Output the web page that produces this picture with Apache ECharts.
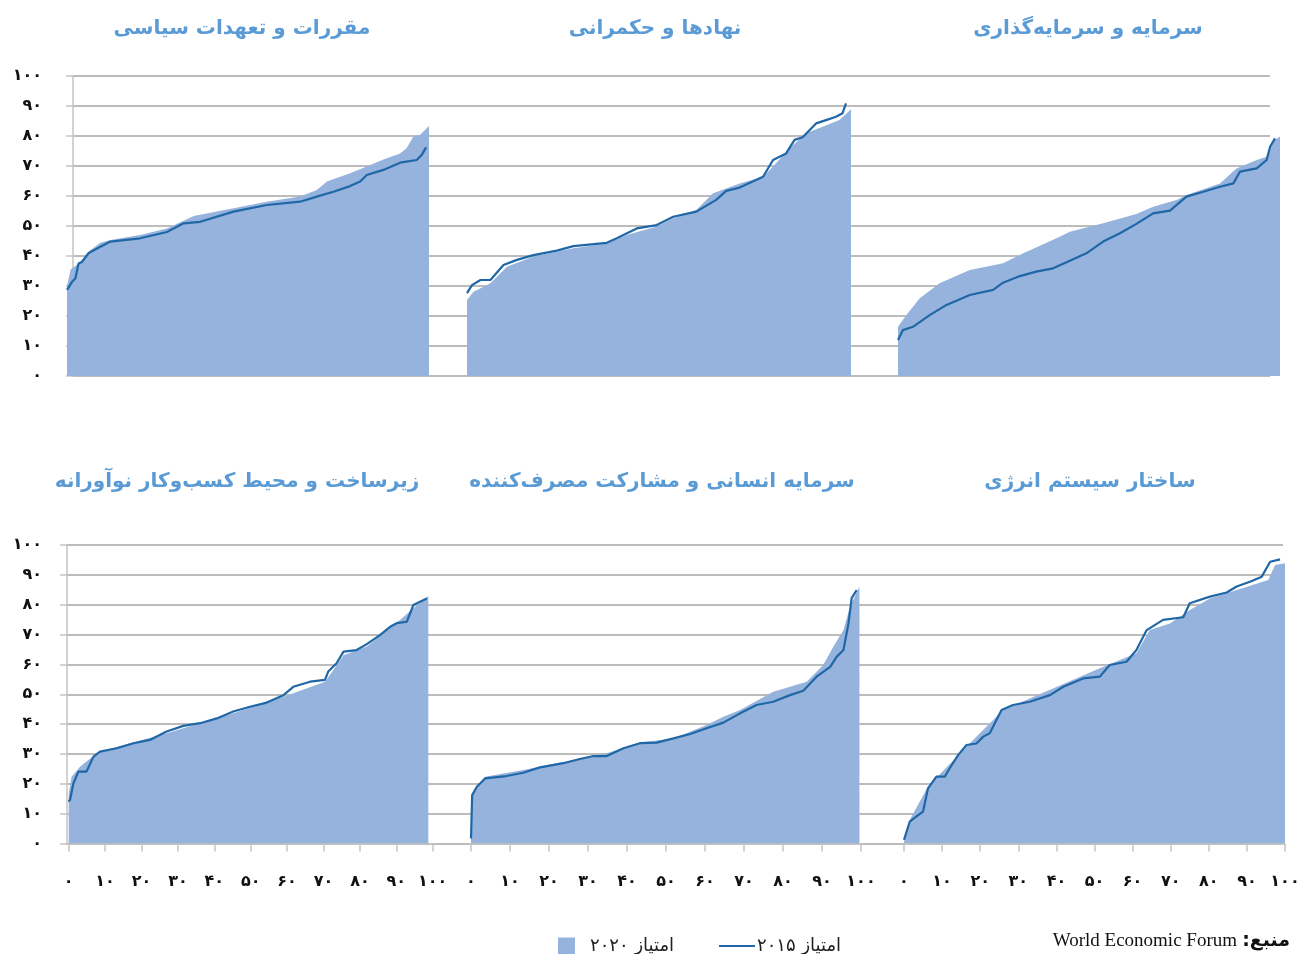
<!DOCTYPE html>
<html><head><meta charset="utf-8">
<script src="https://cdn.jsdelivr.net/npm/echarts@6/dist/echarts.min.js"></script>
<style>html,body{margin:0;padding:0;background:#fff}#c{width:1305px;height:954px}</style>
</head><body><div id="c"></div>
<script>
// ---- titles & labels ----
const panelTitles = [
  'مقررات و تعهدات سیاسی',
  'نهادها و حکمرانی',
  'سرمایه و سرمایه‌گذاری',
  'زیرساخت و محیط کسب‌وکار نوآورانه',
  'سرمایه انسانی و مشارکت مصرف‌کننده',
  'ساختار سیستم انرژی'
];
const name2020 = 'امتیاز ۲۰۲۰';
const name2015 = 'امتیاز ۲۰۱۵';
const sourceLabel = 'منبع:';
const sourceText = 'World Economic Forum';
const yTicks = [0, 100, 10];   // min, max, step
const xTicks = [0, 100, 10];
const persianDigits = '۰۱۲۳۴۵۶۷۸۹';

// ---- data: [percentile, score] ----
const p1_2020 = [[0,30],[1,35.5],[1.4,35.9],[3.7,38],[6,41.5],[9.2,44.4],[12,45.3],[20.2,47],[27.6,49.2],[35,53.3],[46,55.9],[55.2,58.1],[64.4,59.8],[69,62],[71.8,64.8],[78.2,67.6],[82.8,69.8],[87.4,72.2],[92,74.2],[93.8,75.9],[95.7,79.8],[97.5,80.3],[100,83.3]];
const p1_2015 = [[0,28.7],[1.4,31.4],[2.3,32.5],[3.2,37.5],[4.1,38],[6,41],[8.3,42.5],[12,44.8],[20.2,45.9],[27.6,48],[32.2,50.9],[36.8,51.4],[46,54.8],[55.2,57],[64.4,58.1],[69,59.8],[73.6,61.4],[78.2,63.3],[81,64.8],[82.8,67],[87.4,68.7],[92,71.1],[96.6,72],[98,73.7],[99.2,76.2]];

const p2_2020 = [[0,25.3],[1.7,28.1],[6.1,30.9],[10.4,36.4],[17.3,39.8],[27.7,42.6],[36.4,44.2],[41.6,47],[49.4,49.8],[53.7,52.6],[59.7,55.3],[64.1,60.9],[71,64.2],[77.1,66.4],[79.7,69.8],[84,75.9],[88.3,80.9],[92.6,83.1],[97,85.3],[100,88.9]];
const p2_2015 = [[0,27.6],[1.3,30.3],[3.5,32],[6.1,32],[9.5,37],[13,38.7],[17.3,40.3],[23.4,41.8],[27.7,43.3],[36.4,44.4],[39,45.9],[44.2,49.2],[49.4,50.3],[53.7,53.1],[59.7,54.8],[64.9,58.7],[67.5,61.7],[71,62.8],[77.1,66.4],[79.7,72],[83.1,74.2],[85.3,78.7],[87.4,79.6],[90.9,84.2],[93.5,85.3],[96.1,86.4],[97.8,87.6],[98.7,90.9]];

const p3_2020 = [[0,16.4],[2.2,20.3],[5.7,25.9],[10.9,30.9],[18.8,35.3],[27.5,37.6],[32.8,40.9],[41.5,45.9],[45,48.1],[53.7,50.9],[62.4,54],[66.8,56.4],[72.9,58.7],[75.5,60.3],[84.3,64.2],[88.6,69.2],[93.9,72],[96.5,73.1],[97.8,78.1],[100,79.8]];
const p3_2015 = [[0,12],[1.3,15.3],[3.9,16.4],[8.3,20.3],[12.7,23.7],[18.8,27],[24.9,28.7],[27.5,31.1],[31.9,33.3],[36.2,34.8],[40.6,35.9],[45,38.4],[49.3,40.9],[53.7,44.8],[58.1,47.6],[62.4,50.7],[66.8,54.2],[71.2,55.1],[75.5,59.8],[79.9,61.4],[84.3,63.1],[87.8,64.2],[89.5,68.1],[93.9,69.2],[96.5,72],[97.4,76.4],[98.7,79.2]];

const p4_2020 = [[0,16.8],[0.8,22.4],[3.1,25.7],[5.9,28.5],[8.6,30.8],[26.9,36.9],[45.2,43.6],[59,49.2],[70.4,54.2],[72.7,58.1],[75.5,63.1],[81.9,66],[91,74.9],[94.7,78.8],[98.8,82.9]];
const p4_2015 = [[0,14],[0.4,14.8],[1.3,20.2],[2.7,24.1],[4.9,24.1],[6.8,29.1],[8.6,30.8],[13.2,31.9],[17.8,33.6],[22.3,34.7],[26.9,37.5],[31.5,39.4],[36.1,40.3],[40.7,41.9],[45.2,44.2],[49.8,45.8],[54.4,47.2],[59,49.7],[61.7,52.5],[66.3,54.2],[70.4,54.8],[71.3,57.6],[73.6,60.4],[75.5,64.3],[79.1,64.8],[81.9,66.8],[85.5,69.8],[88.3,72.6],[90.1,73.8],[92.9,74.3],[94.7,79.9],[96.5,81],[98.4,82.1]];

const p5_2020 = [[0,16],[3.6,22.4],[13.4,24.6],[26.2,28],[34.8,30.2],[43.3,33.8],[51.9,35.2],[60.4,39.7],[64.7,42.5],[69,44.7],[77.5,50.8],[86.1,54.2],[90.3,59.8],[92.9,65.9],[95.5,71.5],[97.2,79.4],[99.6,86.1]];
const p5_2015 = [[0,1.7],[0.3,16.2],[1.5,19],[3.6,21.8],[9.1,22.6],[13.4,23.7],[17.7,25.5],[23.7,26.9],[27.9,28.3],[31.4,29.3],[34.8,29.3],[39.1,31.9],[43.3,33.6],[47.6,33.8],[51.9,35.2],[56.2,36.7],[60.4,38.6],[64.7,40.5],[69,43.6],[73.2,46.4],[77.5,47.5],[81.8,49.7],[85.2,51.2],[88.6,55.9],[92.1,59.2],[93.8,62.6],[95.5,64.8],[96.8,73.8],[97.6,82.2],[98.9,84.9]];

const p6_2020 = [[0,0.6],[1.5,7.9],[6.3,19.1],[17.3,33.6],[26,44.7],[52.3,59.2],[61,63.7],[64.5,71.5],[69.8,73.7],[75,78.2],[80.3,82.1],[87.3,84.9],[95.6,88.3],[97.4,93.3],[100,93.9]];
const p6_2015 = [[0,1.2],[1.5,7.3],[3.2,9],[5,10.7],[6.3,18.5],[8.5,22.4],[10.7,22.4],[12,25.2],[14.2,29.6],[16.4,33],[19,33.5],[20.8,35.8],[22.5,36.9],[25.6,44.7],[28.6,46.4],[33,47.5],[38.3,49.7],[41.8,52.5],[47,55.3],[51.4,55.9],[54,59.8],[58.4,60.9],[61,64.8],[63.7,71.5],[68,74.9],[73.3,75.8],[75,80.5],[80.3,82.7],[84.7,84.1],[87.3,86.1],[90.8,87.7],[93.9,89.4],[96.1,94.4],[98.7,95.2]];

const data2020 = [p1_2020, p2_2020, p3_2020, p4_2020, p5_2020, p6_2020];
const data2015 = [p1_2015, p2_2015, p3_2015, p4_2015, p5_2015, p6_2015];

// ---- styling / layout ----
const fa = v => String(v).replace(/\d/g, d => persianDigits[d]);
const AREA = '#95b3dc', LINE = '#1f67a6', TITLE = '#5b9bd5';
const GRIDLINE = '#a6a6a6', AXIS = '#c4c4c4';
const FONT = 'DejaVu Sans';
const topY = 76, topH = 300, botY = 545, botH = 298.5;
const panelGrids = [
  {left: 67, top: topY, width: 362, height: topH},
  {left: 467, top: topY, width: 384, height: topH},
  {left: 898, top: topY, width: 382, height: topH},
  {left: 68.7, top: botY, width: 364, height: botH},
  {left: 471, top: botY, width: 390, height: botH},
  {left: 904, top: botY, width: 381, height: botH}
];
const titlePos = [[242, 29], [655, 29], [1088, 29], [237, 482], [662, 482], [1090, 482]];

const grids = [], xAxes = [], yAxes = [], series = [];
const labelStyle = {color: '#111', fontFamily: FONT, fontSize: 16, fontWeight: 'bold'};
function bgRow(left, top, width, height, offset) {
  const gi = grids.length;
  grids.push({left, top, width, height});
  xAxes.push({gridIndex: gi, type: 'value', min: 0, max: 1, show: false});
  yAxes.push({
    gridIndex: gi, type: 'value', min: yTicks[0], max: yTicks[1], interval: yTicks[2], offset,
    axisLine: {show: true, lineStyle: {color: AXIS, width: 1.5}},
    axisTick: {show: true, length: 7, lineStyle: {color: AXIS, width: 1.5}},
    axisLabel: Object.assign({margin: 13, formatter: v => fa(v)}, labelStyle),
    splitLine: {show: true, lineStyle: {color: GRIDLINE, width: 1.5}}
  });
}
bgRow(73, topY, 1197, topH, 18);
bgRow(67, botY, 1216, botH, 12);

panelGrids.forEach((g, i) => {
  const gi = grids.length;
  grids.push(g);
  const bottom = i >= 3;
  xAxes.push({
    gridIndex: gi, type: 'value', min: xTicks[0], max: xTicks[1], interval: xTicks[2],
    show: bottom, offset: 15,
    axisLine: {show: true, lineStyle: {color: AXIS, width: 1.5}},
    axisTick: {show: true, length: 8, lineStyle: {color: AXIS, width: 1.5}},
    axisLabel: Object.assign({margin: 15, formatter: v => fa(v), showMinLabel: true, showMaxLabel: true}, labelStyle),
    splitLine: {show: false}
  });
  yAxes.push({gridIndex: gi, type: 'value', min: 0, max: 100, show: false});
  series.push({
    name: name2020, type: 'line', xAxisIndex: gi, yAxisIndex: gi, data: data2020[i],
    showSymbol: false, symbol: 'none', lineStyle: {width: 0}, itemStyle: {color: AREA}, color: AREA,
    areaStyle: {color: AREA, opacity: 1}, z: 2, silent: true, animation: false
  });
  series.push({
    name: name2015, type: 'line', xAxisIndex: gi, yAxisIndex: gi, data: data2015[i],
    showSymbol: false, symbol: 'none', lineStyle: {width: 2.2, color: LINE}, itemStyle: {color: LINE}, color: LINE,
    z: 3, silent: true, animation: false
  });
});

const graphics = panelTitles.map((t, i) => ({
  type: 'text', x: titlePos[i][0], y: titlePos[i][1],
  style: {text: t, fill: TITLE, font: 'bold 20px "DejaVu Sans"', align: 'center', verticalAlign: 'middle', textAlign: 'center', textVerticalAlign: 'middle'}
}));
graphics.push({type: 'text', x: 1237, y: 941,
  style: {text: sourceText, fill: '#111', font: '19px "Liberation Serif"', align: 'right', verticalAlign: 'middle', textAlign: 'right', textVerticalAlign: 'middle'}});
graphics.push({type: 'text', x: 1290, y: 941,
  style: {text: sourceLabel + '\u200F', fill: '#111', font: 'bold 19px "DejaVu Sans"', align: 'right', verticalAlign: 'middle', textAlign: 'right', textVerticalAlign: 'middle'}});

const chart = echarts.init(document.getElementById('c'), null, {renderer: 'canvas'});
chart.setOption({
  animation: false,
  backgroundColor: '#fff',
  grid: grids,
  xAxis: xAxes,
  yAxis: yAxes,
  series,
  legend: [
    {left: 553, top: 932, itemWidth: 17, itemHeight: 17, selectedMode: false,
     data: [{name: name2020, icon: 'rect'}],
     textStyle: {fontFamily: FONT, fontSize: 18, color: '#222', padding: [0, 0, 0, 10]}},
    {left: 714, top: 932, itemWidth: 36, itemHeight: 17, selectedMode: false,
     data: [{name: name2015, icon: 'path://M0,0H36V2H0Z'}],
     textStyle: {fontFamily: FONT, fontSize: 18, color: '#222', padding: [0, 0, 0, -3]}}
  ],
  graphic: graphics
});
</script></body></html>
